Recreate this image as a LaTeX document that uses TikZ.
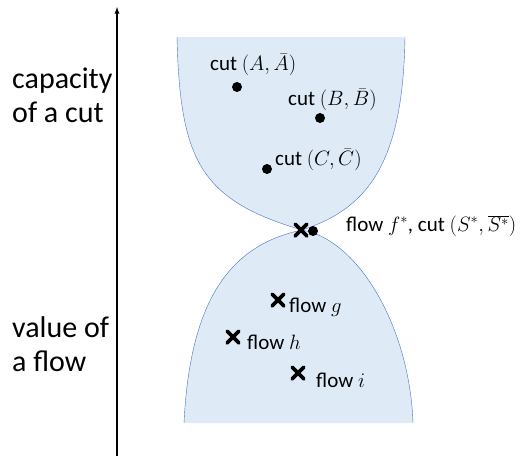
\documentclass[tikz,border=0pt]{standalone}
\usepackage{fontspec}
\setmainfont{Carlito}
\usetikzlibrary{shapes.misc}
\definecolor{regionfill}{HTML}{DEEBF7}
\definecolor{regionline}{HTML}{4472C4}

\begin{document}
\begin{tikzpicture}[x=1pt,y=-1pt,
    cutdot/.style={circle,fill=black,inner sep=0pt,minimum size=10pt},
    flowmark/.style={cross out,draw=black,line width=3.8pt,line cap=round,inner sep=0pt,minimum size=8pt},
    lbl/.style={anchor=west,inner sep=0pt,font=\fontsize{21}{25}\selectfont},
    side/.style={anchor=west,align=left,inner sep=0pt,font=\fontsize{30}{34}\selectfont}]
  \useasboundingbox (0,0) rectangle (524,459);
  % the two regions, pinched at the optimum
  \coordinate (pinch) at (302,230);
  \fill[regionfill] (177,37) .. controls (180,160) and (200,200) .. (pinch)
    .. controls (370,208) and (403,160) .. (405,37) -- cycle;
  \fill[regionfill] (184,423) .. controls (190,300) and (230,245) .. (pinch)
    .. controls (360,240) and (410,330) .. (413,423) -- cycle;
  \draw[regionline] (177,37) .. controls (180,160) and (200,200) .. (pinch)
    .. controls (370,208) and (403,160) .. (405,37);
  \draw[regionline] (184,423) .. controls (190,300) and (230,245) .. (pinch)
    .. controls (360,240) and (410,330) .. (413,423);
  % axis
  \coordinate (axisbot) at (117,456);
  \coordinate (axistop) at (117,7);
  \draw[-latex,line width=1.3pt] (axisbot) -- (axistop);
  \node[side] (captext) at (12,95) {capacity\\of a cut};
  \node[side] (valtext) at (12,344) {value of\\a flow};
  % cuts
  \node[cutdot] (cutA) at (237,87) {};
  \node[lbl] (cutAlbl) at (210,65) {cut $(A,\bar{A})$};
  \node[cutdot] (cutB) at (320,118) {};
  \node[lbl] (cutBlbl) at (288,100) {cut $(B,\bar{B})$};
  \node[cutdot] (cutC) at (267,169) {};
  \node[lbl] (cutClbl) at (275,160) {cut $(C,\bar{C})$};
  % optimum
  \node[flowmark] (fstar) at (301,230) {};
  \node[cutdot] (Sstar) at (313,231) {};
  \node[lbl] (optlbl) at (346,226) {flow $f^*$, cut $(S^*,\overline{S^*})$};
  % flows
  \node[flowmark] (flowg) at (278,300) {};
  \node[lbl] (glbl) at (289,307) {flow $g$};
  \node[flowmark] (flowh) at (233,337) {};
  \node[lbl] (hlbl) at (247,342) {flow $h$};
  \node[flowmark] (flowi) at (298,373) {};
  \node[lbl] (ilbl) at (316,380) {flow $i$};
\end{tikzpicture}
\end{document}
